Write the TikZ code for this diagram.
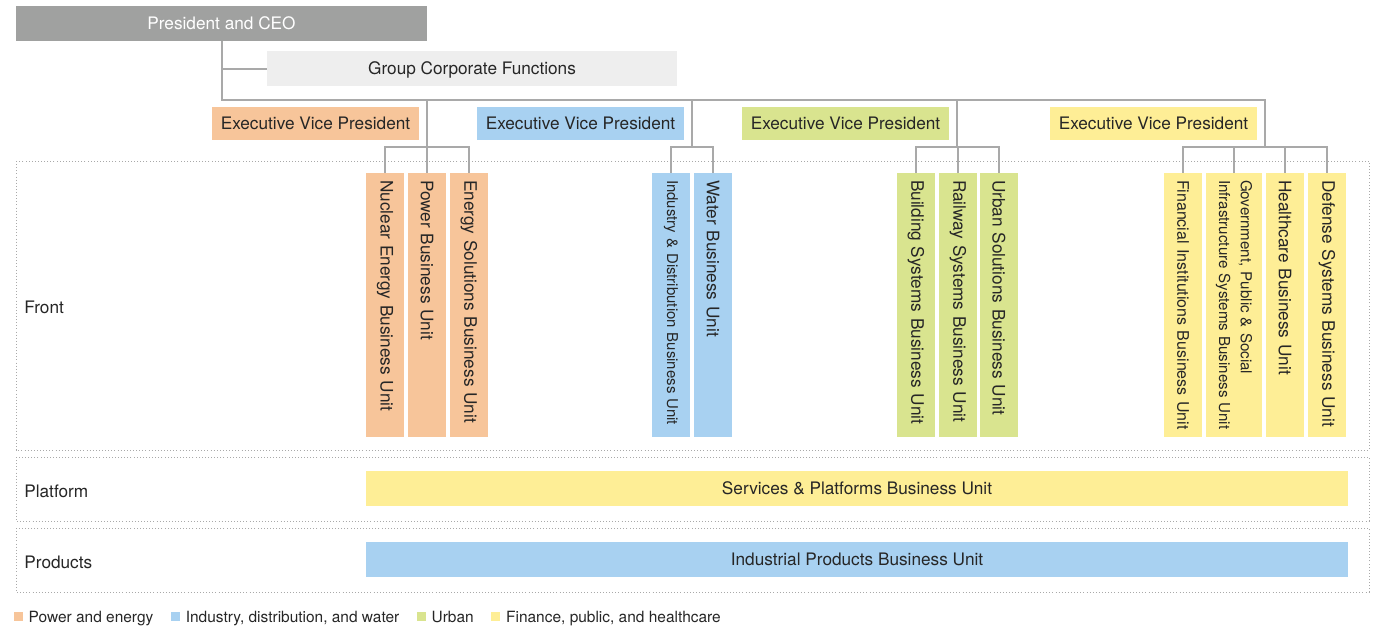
\documentclass[tikz,border=0pt]{standalone}
\usepackage{fontspec}
\setmainfont{TeX Gyre Heros}
\usetikzlibrary{positioning}
\newlength{\px}
\setlength{\px}{0.02cm}
\definecolor{energy}{HTML}{F7C59A}
\definecolor{industry}{HTML}{A8D1F1}
\definecolor{urban}{HTML}{D9E48F}
\definecolor{finance}{HTML}{FEEE96}
\definecolor{ceogray}{HTML}{A0A1A0}
\definecolor{corpgray}{HTML}{EEEEEE}
\definecolor{linegray}{HTML}{A9A9A9}
\tikzset{
	box/.style = {inner sep=0pt, text centered, font=\fontsize{9.8}{12.5}\selectfont, text=black!85},
	shrink/.style = {font=\fontsize{#1}{12.5}\selectfont},
	flat/.style = {box, text depth=0pt},
	head/.style = {flat, fill=ceogray, text=white, minimum width=411\px, minimum height=35\px},
	corp/.style = {flat, fill=corpgray, minimum width=410\px, minimum height=35\px},
	evp/.style = {flat, minimum width=207\px, minimum height=33\px},
	bu/.style = {box, rotate=-90, minimum height=38\px, text width=250\px, align=left, inner xsep=7\px},
	bar/.style = {flat, minimum width=982\px, minimum height=35\px},
	rowlabel/.style = {flat, anchor=west},
	conn/.style = {draw=linegray, line width=2\px},
	band/.style = {draw=linegray, line width=0.9\px, dash pattern=on 0.9\px off 2.2\px},
	key/.style = {inner sep=0pt, minimum size=9\px},
	keytext/.style = {inner sep=0pt, text depth=0pt, font=\fontsize{8.8}{10}\selectfont, text=black!85}
}
\begin{document}
\begin{tikzpicture}[x=0.02cm, y=-0.02cm]
		\useasboundingbox (0,0) rectangle (1373,627);
		\draw[band] (16,161) rectangle (1369,450);
		\draw[band] (16,457) rectangle (1369,521);
		\draw[band] (16,528) rectangle (1369,592);

		\node[head] (ceo) at (221.5,23.5) {President and CEO};
		\node[corp] (gcf) at (472,68.5) {Group Corporate Functions};
		\node[evp, fill=energy] (evpA) at (315.5,123.5) {Executive Vice President};
		\node[evp, fill=industry] (evpB) at (580.5,123.5) {Executive Vice President};
		\node[evp, fill=urban] (evpC) at (845.5,123.5) {Executive Vice President};
		\node[evp, fill=finance] (evpD) at (1153.5,123.5) {Executive Vice President};

		\node[bu, fill=energy] (nuc) at (385,305) {Nuclear Energy Business Unit};
		\node[bu, fill=energy] (pow) at (427,305) {Power Business Unit};
		\node[bu, fill=energy] (ens) at (469,305) {Energy Solutions Business Unit};
		\node[bu, fill=industry, shrink=8.5] (ind) at (671,305) {Industry \& Distribution Business Unit};
		\node[bu, fill=industry] (wat) at (713,305) {Water Business Unit};
		\node[bu, fill=urban] (bld) at (916,305) {Building Systems Business Unit};
		\node[bu, fill=urban] (rwy) at (958,305) {Railway Systems Business Unit};
		\node[bu, fill=urban] (urb) at (999,305) {Urban Solutions Business Unit};
		\node[bu, fill=finance, shrink=9.1] (fin) at (1183,305) {Financial Institutions Business Unit};
		\node[bu, fill=finance, shrink=8.6, minimum height=56\px] (gov) at (1234,305) {Government, Public \& Social\\Infrastructure Systems Business Unit};
		\node[bu, fill=finance] (hlt) at (1285,305) {Healthcare Business Unit};
		\node[bu, fill=finance] (def) at (1327,305) {Defense Systems Business Unit};

		\node[bar, fill=finance] (svc) at (857,488.5) {Services \& Platforms Business Unit};
		\node[bar, fill=industry] (ipr) at (857,559.5) {Industrial Products Business Unit};

		\node[rowlabel] (front) at (24,307) {Front};
		\node[rowlabel] (plat) at (24,491) {Platform};
		\node[rowlabel] (prod) at (24,562) {Products};

		\coordinate (bus) at (222,100);
		\coordinate (tA) at (427,147);
		\coordinate (tB) at (692,147);
		\coordinate (tC) at (957,147);
		\coordinate (tD) at (1265,147);

		\draw[conn] (ceo.south) |- (tD |- bus) -- (tD);
		\draw[conn] (ceo.south |- gcf.west) -- (gcf.west);
		\draw[conn] (tA |- bus) -- (tA);
		\draw[conn] (tB |- bus) -- (tB);
		\draw[conn] (tC |- bus) -- (tC);
		\draw[conn] (nuc.west) |- (tA) -| (ens.west);
		\draw[conn] (pow.west) -- (pow.west |- tA);
		\draw[conn] (ind.west) |- (tB) -| (wat.west);
		\draw[conn] (bld.west) |- (tC) -| (urb.west);
		\draw[conn] (rwy.west) -- (rwy.west |- tC);
		\draw[conn] (fin.west) |- (tD) -| (def.west);
		\draw[conn] (gov.west) -- (gov.west |- tD);
		\draw[conn] (hlt.west) -- (hlt.west |- tD);

		\node[key, fill=energy] (kA) at (18.5,616.5) {};
		\node[keytext, right=5\px of kA] (lA) {Power and energy};
		\node[key, fill=industry, right=17\px of lA] (kB) {};
		\node[keytext, right=5\px of kB] (lB) {Industry, distribution, and water};
		\node[key, fill=urban, right=17\px of lB] (kC) {};
		\node[keytext, right=5\px of kC] (lC) {Urban};
		\node[key, fill=finance, right=17\px of lC] (kD) {};
		\node[keytext, right=5\px of kD] (lD) {Finance, public, and healthcare};
\end{tikzpicture}
\end{document}
